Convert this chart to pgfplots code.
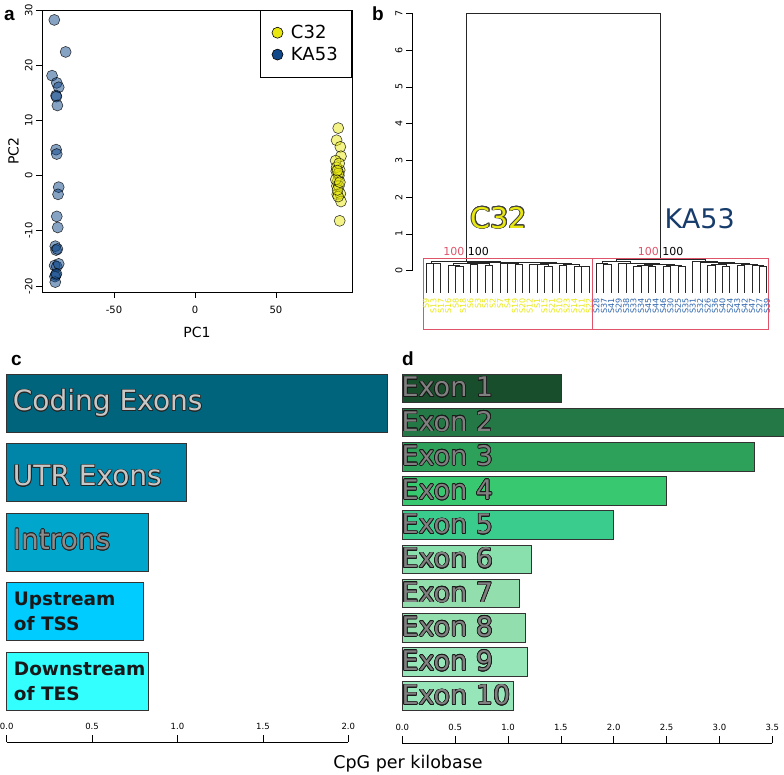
\documentclass[border=0pt]{standalone}
\usepackage{pgfplots}
\pgfplotsset{compat=1.18}
\usepackage{fontspec}
\setmainfont{DejaVu Sans}
\newfontfamily\panelfont{Liberation Sans}
\usepackage{contour}
\contourlength{0.7pt}
\definecolor{c32}{RGB}{232,232,16}
\definecolor{ka53}{RGB}{16,72,138}
\definecolor{ka53lab}{RGB}{44,100,172}
\definecolor{ka53big}{RGB}{22,60,108}
\definecolor{boxred}{RGB}{223,83,107}
\definecolor{cA}{RGB}{0,100,124}
\definecolor{cB}{RGB}{0,133,168}
\definecolor{cC}{RGB}{0,166,204}
\definecolor{cD}{RGB}{0,204,255}
\definecolor{cE}{RGB}{51,255,255}
\definecolor{e1}{RGB}{24,78,44}
\definecolor{e2}{RGB}{35,120,70}
\definecolor{e3}{RGB}{45,160,90}
\definecolor{e4}{RGB}{55,200,112}
\definecolor{e5}{RGB}{57,204,140}
\definecolor{e6}{RGB}{138,224,172}
\definecolor{e7}{RGB}{146,222,172}
\definecolor{e8}{RGB}{146,222,172}
\definecolor{e9}{RGB}{150,230,186}
\definecolor{e10}{RGB}{150,230,186}
\pgfplotsset{every axis/.append style={/pgf/number format/assume math mode=true}}
\tikzset{leaflab/.style={rotate=90, anchor=east, inner sep=0pt, font=\fontsize{8}{8}\selectfont}}
\newcommand\leafY[2]{\node[leaflab,text=c32] at (axis cs:#1,-0.74) {#2};}
\newcommand\leafB[2]{\node[leaflab,text=ka53lab] at (axis cs:#1,-0.74) {#2};}
\newcommand\barlab[1]{{\color{black!22}\contour{black!85}{#1}}}
\newcommand\exlab[1]{{\color{black!50}\contour{black!90}{#1}}}
\begin{document}
\begin{tikzpicture}
\path[use as bounding box] (0,0) rectangle (784pt,-774pt);
% panel letters
\node[anchor=base west, inner sep=0pt, font=\panelfont\bfseries\fontsize{19}{19}\selectfont] at (4pt,-20pt) {a};
\node[anchor=base west, inner sep=0pt, font=\panelfont\bfseries\fontsize{19}{19}\selectfont] at (372pt,-20pt) {b};
\node[anchor=base west, inner sep=0pt, font=\panelfont\bfseries\fontsize{19}{19}\selectfont] at (11pt,-365pt) {c};
\node[anchor=base west, inner sep=0pt, font=\panelfont\bfseries\fontsize{19}{19}\selectfont] at (402pt,-365pt) {d};

% ---------------- panel a ----------------
\begin{axis}[
 at={(42pt,-292pt)}, anchor=south west, scale only axis,
 width=310pt, height=282pt,
 xmin=-94.4, xmax=96.9, ymin=-21.1, ymax=30,
 axis line style={line width=0.6pt},
 tick pos=left, tick align=outside, major tick length=6pt,
 every tick/.style={black, line width=0.6pt},
 xtick={-50,0,50}, ytick={-20,-10,0,10,20,30},
 ticklabel style={font=\fontsize{10}{11}\selectfont},
 xticklabel shift=5pt,
 yticklabel style={rotate=90, anchor=south},
 every axis x label/.style={at={(axis description cs:0.5,-0.142)}, anchor=center, font=\fontsize{14}{16}\selectfont},
 every axis y label/.style={at={(axis description cs:-0.092,0.5)}, rotate=90, anchor=center, font=\fontsize{14}{16}\selectfont},
 xlabel={PC1}, ylabel={PC2},
 legend style={at={(1,1)}, anchor=north east, draw=black, line width=0.6pt,
   font=\fontsize{18}{20}\selectfont, inner xsep=12pt, inner ysep=13pt, row sep=3pt,
   column sep=6pt, cells={anchor=west}},
]
\addplot[only marks, mark=*, mark size=5.5pt, mark options={fill=ka53, fill opacity=0.5, draw=black, draw opacity=0.75, line width=0.6pt}, forget plot] coordinates {
(-86.8,28.2) (-79.8,22.4) (-88.2,18.1) (-85.3,16.8) (-84.1,16.0) (-85.7,14.5)
(-85.5,14.3) (-84.9,12.7) (-85.7,4.7) (-85.3,3.9) (-84.1,-2.1) (-84.5,-3.4)
(-85.3,-7.4) (-84.7,-9.4) (-86.2,-12.8) (-85.7,-13.5) (-84.9,-13.3) (-86.6,-16.3)
(-85.3,-16.5) (-84.1,-16.0) (-85.9,-18.0) (-86.4,-18.3) (-86.2,-19.3) (-85.5,-17.8)};
\addplot[only marks, mark=*, mark size=5.5pt, mark options={fill=c32, fill opacity=0.5, draw=black, draw opacity=0.75, line width=0.6pt}, forget plot] coordinates {
(88.4,8.6) (87.4,6.4) (89.7,5.2) (90.1,3.5) (86.8,2.7) (87.2,0.8) (89.3,1.0)
(88.8,0.0) (88.2,-0.9) (87.6,-1.9) (88.8,-1.9) (87.8,-3.4) (89.7,-3.3) (90.1,-4.7)
(89.3,-8.2) (88.4,-3.8) (87.4,1.5) (88.6,0.4) (86.9,-0.7) (89.0,2.2) (88.0,-2.6)
(89.4,-1.2) (87.9,0.9)};
\addlegendimage{only marks, mark=*, mark size=5.5pt, mark options={fill=c32, draw=black, line width=0.6pt}}
\addlegendentry{C32}
\addlegendimage{only marks, mark=*, mark size=5.5pt, mark options={fill=ka53, draw=black, line width=0.6pt}}
\addlegendentry{KA53}
\end{axis}

% ---------------- panel b: y axis ----------------
\begin{axis}[
 at={(412pt,-270.7pt)}, anchor=south west, scale only axis,
 width=5pt, height=257.4pt, xmin=0, xmax=1, ymin=0, ymax=7,
 axis x line=none, axis y line*=left,
 axis line style={line width=0.6pt},
 ytick={0,1,2,3,4,5,6,7}, tick align=outside, major tick length=6pt,
 every tick/.style={black, line width=0.6pt},
 yticklabel style={rotate=90, anchor=south, font=\fontsize{9.5}{10}\selectfont},
]
\end{axis}

% ---------------- panel b: dendrogram ----------------
\begin{axis}[
 at={(418.6pt,-333.2pt)}, anchor=south west, scale only axis,
 width=355.7pt, height=323.6pt, xmin=0, xmax=48, ymin=-1.7, ymax=7.1,
 axis lines=none, clip=false,
]
\addplot[black!85, line width=0.8pt, unbounded coords=jump] table[row sep=\\] {
x y\\
2 -0.6\\ 2 0.19\\ 3 0.19\\ 3 -0.6\\ nan nan\\
1 -0.6\\ 1 0.21\\ 2.5 0.21\\ 2.5 0.19\\ nan nan\\
5 -0.6\\ 5 0.12\\ 6 0.12\\ 6 -0.6\\ nan nan\\
4 -0.6\\ 4 0.15\\ 5.5 0.15\\ 5.5 0.12\\ nan nan\\
7 -0.6\\ 7 0.17\\ 8 0.17\\ 8 -0.6\\ nan nan\\
9 -0.6\\ 9 0.15\\ 10 0.15\\ 10 -0.6\\ nan nan\\
7.5 0.17\\ 7.5 0.19\\ 9.5 0.19\\ 9.5 0.15\\ nan nan\\
4.75 0.15\\ 4.75 0.21\\ 8.5 0.21\\ 8.5 0.19\\ nan nan\\
11 -0.6\\ 11 0.19\\ 12 0.19\\ 12 -0.6\\ nan nan\\
13 -0.6\\ 13 0.17\\ 14 0.17\\ 14 -0.6\\ nan nan\\
11.5 0.19\\ 11.5 0.21\\ 13.5 0.21\\ 13.5 0.17\\ nan nan\\
15 -0.6\\ 15 0.16\\ 16 0.16\\ 16 -0.6\\ nan nan\\
17 -0.6\\ 17 0.12\\ 18 0.12\\ 18 -0.6\\ nan nan\\
15.5 0.16\\ 15.5 0.18\\ 17.5 0.18\\ 17.5 0.12\\ nan nan\\
19 -0.6\\ 19 0.14\\ 20 0.14\\ 20 -0.6\\ nan nan\\
22 -0.6\\ 22 0.12\\ 23 0.12\\ 23 -0.6\\ nan nan\\
21 -0.6\\ 21 0.13\\ 22.5 0.13\\ 22.5 0.12\\ nan nan\\
19.5 0.14\\ 19.5 0.16\\ 21.75 0.16\\ 21.75 0.13\\ nan nan\\
16.5 0.18\\ 16.5 0.2\\ 20.625 0.2\\ 20.625 0.16\\ nan nan\\
12.5 0.21\\ 12.5 0.22\\ 18.5625 0.22\\ 18.5625 0.2\\ nan nan\\
6.625 0.21\\ 6.625 0.235\\ 15.531 0.235\\ 15.531 0.22\\ nan nan\\
1.75 0.21\\ 1.75 0.25\\ 11.078 0.25\\ 11.078 0.235\\ nan nan\\
25 -0.6\\ 25 0.16\\ 26 0.16\\ 26 -0.6\\ nan nan\\
24 -0.6\\ 24 0.2\\ 25.5 0.2\\ 25.5 0.16\\ nan nan\\
29 -0.6\\ 29 0.12\\ 30 0.12\\ 30 -0.6\\ nan nan\\
31 -0.6\\ 31 0.13\\ 32 0.13\\ 32 -0.6\\ nan nan\\
29.5 0.12\\ 29.5 0.15\\ 31.5 0.15\\ 31.5 0.13\\ nan nan\\
33 -0.6\\ 33 0.12\\ 34 0.12\\ 34 -0.6\\ nan nan\\
35 -0.6\\ 35 0.11\\ 36 0.11\\ 36 -0.6\\ nan nan\\
33.5 0.12\\ 33.5 0.14\\ 35.5 0.14\\ 35.5 0.11\\ nan nan\\
30.5 0.15\\ 30.5 0.17\\ 34.5 0.17\\ 34.5 0.14\\ nan nan\\
28 -0.6\\ 28 0.19\\ 32.5 0.19\\ 32.5 0.17\\ nan nan\\
27 -0.6\\ 27 0.21\\ 30.25 0.21\\ 30.25 0.19\\ nan nan\\
24.75 0.2\\ 24.75 0.24\\ 28.625 0.24\\ 28.625 0.21\\ nan nan\\
39 -0.6\\ 39 0.15\\ 40 0.15\\ 40 -0.6\\ nan nan\\
41 -0.6\\ 41 0.13\\ 42 0.13\\ 42 -0.6\\ nan nan\\
39.5 0.15\\ 39.5 0.17\\ 41.5 0.17\\ 41.5 0.13\\ nan nan\\
43 -0.6\\ 43 0.14\\ 44 0.14\\ 44 -0.6\\ nan nan\\
46 -0.6\\ 46 0.12\\ 47 0.12\\ 47 -0.6\\ nan nan\\
45 -0.6\\ 45 0.15\\ 46.5 0.15\\ 46.5 0.12\\ nan nan\\
43.5 0.14\\ 43.5 0.18\\ 45.75 0.18\\ 45.75 0.15\\ nan nan\\
40.5 0.17\\ 40.5 0.2\\ 44.625 0.2\\ 44.625 0.18\\ nan nan\\
38 -0.6\\ 38 0.22\\ 42.5625 0.22\\ 42.5625 0.2\\ nan nan\\
37 -0.6\\ 37 0.25\\ 40.281 0.25\\ 40.281 0.22\\ nan nan\\
26.6875 0.24\\ 26.6875 0.3\\ 38.641 0.3\\ 38.641 0.25\\ nan nan\\
6.414 0.25\\ 6.414 7\\ 32.664 7\\ 32.664 0.3\\
};
\addplot[boxred, line width=0.7pt] coordinates {(0.595,-1.594) (23.4,-1.594) (23.4,0.337) (0.595,0.337) (0.595,-1.594)};
\addplot[boxred, line width=0.7pt] coordinates {(23.5,-1.594) (47.19,-1.594) (47.19,0.337) (23.5,0.337) (23.5,-1.594)};
\node[anchor=base east, inner sep=0pt, xshift=-1.5pt, text=boxred, font=\fontsize{11}{11}\selectfont] at (axis cs:6.414,0.40) {100};
\node[anchor=base west, inner sep=0pt, xshift=1.5pt, font=\fontsize{11}{11}\selectfont] at (axis cs:6.414,0.40) {100};
\node[anchor=base east, inner sep=0pt, xshift=-1.5pt, text=boxred, font=\fontsize{11}{11}\selectfont] at (axis cs:32.664,0.40) {100};
\node[anchor=base west, inner sep=0pt, xshift=1.5pt, font=\fontsize{11}{11}\selectfont] at (axis cs:32.664,0.40) {100};
\node[anchor=base west, inner sep=0pt, font=\fontsize{28.5}{29}\selectfont] at (axis cs:7.0,1.16) {{\color{c32}\contour{black!75}{C32}}};
\node[anchor=base west, inner sep=0pt, text=ka53big, font=\fontsize{27}{28}\selectfont] at (axis cs:33.17,1.16) {KA53};
\leafY{1}{S9}\leafY{2}{S13}\leafY{3}{S17}\leafY{4}{S16}\leafY{5}{S8}\leafY{6}{S18}
\leafY{7}{S6}\leafY{8}{S3}\leafY{9}{S5}\leafY{10}{S2}\leafY{11}{S7}\leafY{12}{S4}
\leafY{13}{S19}\leafY{14}{S20}\leafY{15}{S12}\leafY{16}{S1}\leafY{17}{S15}\leafY{18}{S21}
\leafY{19}{S10}\leafY{20}{S23}\leafY{21}{S14}\leafY{22}{S11}\leafY{23}{S22}
\leafB{24}{S28}\leafB{25}{S37}\leafB{26}{S41}\leafB{27}{S29}\leafB{28}{S38}\leafB{29}{S33}
\leafB{30}{S34}\leafB{31}{S45}\leafB{32}{S44}\leafB{33}{S46}\leafB{34}{S30}\leafB{35}{S25}
\leafB{36}{S35}\leafB{37}{S31}\leafB{38}{S32}\leafB{39}{S26}\leafB{40}{S36}\leafB{41}{S40}
\leafB{42}{S24}\leafB{43}{S43}\leafB{44}{S42}\leafB{45}{S47}\leafB{46}{S27}\leafB{47}{S39}
\end{axis}

% ---------------- panel c ----------------
\begin{axis}[
 at={(6.7pt,-742pt)}, anchor=south west, scale only axis,
 width=341.6pt, height=368pt, xmin=0, xmax=2, ymin=-0.879, ymax=4.416,
 xbar, bar width=58pt, bar shift=0pt, clip=false,
 axis x line*=bottom, axis y line=none,
 axis line style={line width=0.6pt},
 xtick={0,0.5,1,1.5,2}, ytick=\empty,
 tick align=inside, major tick length=7pt,
 every tick/.style={black, line width=0.6pt},
 xticklabel style={anchor=south, yshift=9pt, font=\fontsize{8.5}{9}\selectfont,
   /pgf/number format/.cd, fixed, fixed zerofill, precision=1},
]
\addplot[fill=cA, draw=black!80, line width=0.8pt] coordinates {(2.231,4)};
\addplot[fill=cB, draw=black!80, line width=0.8pt] coordinates {(1.050,3)};
\addplot[fill=cC, draw=black!80, line width=0.8pt] coordinates {(0.829,2)};
\addplot[fill=cD, draw=black!80, line width=0.8pt] coordinates {(0.800,1)};
\addplot[fill=cE, draw=black!80, line width=0.8pt] coordinates {(0.829,0)};
\node[anchor=base west, inner sep=0pt, xshift=6pt, yshift=-7.8pt, font=\fontsize{28}{28}\selectfont] at (axis cs:0,4) {\barlab{Coding Exons}};
\node[anchor=base west, inner sep=0pt, xshift=6pt, yshift=-13.5pt, font=\fontsize{28}{28}\selectfont] at (axis cs:0,3) {\barlab{UTR Exons}};
\node[anchor=base west, inner sep=0pt, xshift=6pt, yshift=-7.6pt, font=\fontsize{28}{28}\selectfont] at (axis cs:0,2) {{\color{black!45}\contour{black!85}{Introns}}};
\node[anchor=west, inner sep=0pt, xshift=7pt, align=left, text=black!90, font=\bfseries\fontsize{18.5}{25}\selectfont] at (axis cs:0,1) {Upstream\\of TSS};
\node[anchor=west, inner sep=0pt, xshift=7pt, align=left, text=black!90, font=\bfseries\fontsize{18.5}{25}\selectfont] at (axis cs:0,0) {Downstream\\of TES};
\end{axis}

% ---------------- panel d ----------------
\begin{axis}[
 at={(402.3pt,-743.3pt)}, anchor=south west, scale only axis,
 width=370pt, height=369.3pt, xmin=0, xmax=3.5, ymin=-1.380, ymax=9.418,
 xbar, bar width=28.7pt, bar shift=0pt, clip=false,
 axis x line*=bottom, axis y line=none,
 axis line style={line width=0.6pt},
 xtick={0,0.5,1,1.5,2,2.5,3,3.5}, ytick=\empty,
 tick align=inside, major tick length=7pt,
 every tick/.style={black, line width=0.6pt},
 xticklabel style={anchor=south, yshift=9pt, font=\fontsize{8.5}{9}\selectfont,
   /pgf/number format/.cd, fixed, fixed zerofill, precision=1},
]
\addplot[fill=e1, draw=black!80, line width=0.8pt] coordinates {(1.504,9)};
\addplot[fill=e2, draw=black!80, line width=0.8pt] coordinates {(3.61,8)};
\addplot[fill=e3, draw=black!80, line width=0.8pt] coordinates {(3.33,7)};
\addplot[fill=e4, draw=black!80, line width=0.8pt] coordinates {(2.50,6)};
\addplot[fill=e5, draw=black!80, line width=0.8pt] coordinates {(2.00,5)};
\addplot[fill=e6, draw=black!80, line width=0.8pt] coordinates {(1.218,4)};
\addplot[fill=e7, draw=black!80, line width=0.8pt] coordinates {(1.11,3)};
\addplot[fill=e8, draw=black!80, line width=0.8pt] coordinates {(1.16,2)};
\addplot[fill=e9, draw=black!80, line width=0.8pt] coordinates {(1.186,1)};
\addplot[fill=e10, draw=black!80, line width=0.8pt] coordinates {(1.054,0)};
\foreach \k/\lab in {9/1,8/2,7/3,6/4,5/5,4/6,3/7,2/8,1/9,0/10}{
  \edef\tmp{\noexpand\node[anchor=base west, inner sep=0pt, xshift=-1pt, yshift=-8.6pt, font=\noexpand\fontsize{27}{27}\noexpand\selectfont] at (axis cs:0,\k) {\noexpand\exlab{Exon \lab}};}
  \tmp
}
\end{axis}

\node[anchor=base, inner sep=0pt, font=\fontsize{17.5}{18}\selectfont] at (408pt,-768pt) {CpG per kilobase};
\end{tikzpicture}
\end{document}
